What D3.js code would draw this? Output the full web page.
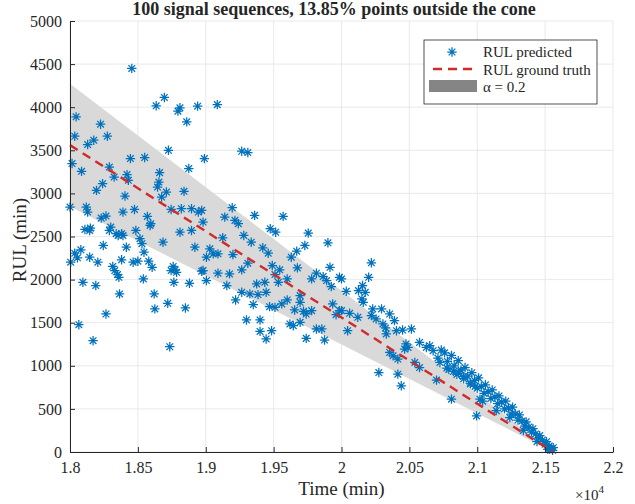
<!DOCTYPE html>
<html>
<head>
<meta charset="utf-8">
<script src="https://cdn.jsdelivr.net/npm/d3@7"></script>
<style>
body { margin: 0; background: #fff; }
text { font-family: "Liberation Serif", "DejaVu Serif", serif; fill: #262626; }
</style>
</head>
<body>
<div id="main"></div>
<script>
// tick values and labels (x axis shown in units of 1e4 min)
var xTicks = [18000, 18500, 19000, 19500, 20000, 20500, 21000, 21500, 22000];
var xTickLabels = ["1.8", "1.85", "1.9", "1.95", "2", "2.05", "2.1", "2.15", "2.2"];
var yTicks = [0, 500, 1000, 1500, 2000, 2500, 3000, 3500, 4000, 4500, 5000];

// ground truth: RUL reaches 0 at this time, cone is +/- alpha * RUL
var truthEnd = 21560;
var truthStart = 18000;
var coneAlpha = 0.2;

// predicted RUL points [time, RUL]
var predEarly = [
  [18455,4450],[18635,4016],[18695,4113],[18810,3993],[18795,3954],[18860,3830],[18940,4012],[18045,3888],
  [18035,3663],[18225,3803],[18275,3663],[18130,3567],[18175,3617],[18015,3346],[18085,3256],[18725,3500],
  [18445,3404],[18550,3416],[18875,3288],[18990,3404],[18290,3306],[18325,3190],[18420,3218],[18430,3152],
  [18660,3241],[18655,3132],[18645,3074],[18710,3016],[18675,2958],[18840,3024],[18240,3113],[18195,3035],
  [18405,2969],[18000,2841],[18120,2841],[18130,2783],[18230,2713],[18265,2737],[18390,2783],[18475,2814],
  [18570,2733],[18595,2648],[18590,2628],[18300,2609],[18290,2570],[18110,2582],[18150,2597],[18745,2814],
  [18820,2822],[18895,2822],[18945,2783],[18485,2570],[18810,2550],[18895,2570],[18380,2532],[18340,2532],
  [19085,4030],[19265,3489],[19310,3474]
];
var predLow = [
  [18145,2570],[18355,2512],[18390,2512],[18515,2474],[18530,2416],[18685,2434],[18920,2376],[18245,2396],
  [18415,2376],[18545,2318],[18080,2346],[18035,2306],[18055,2253],[18005,2202],[18145,2260],[18205,2202],
  [18380,2230],[18465,2202],[18500,2213],[18580,2213],[18605,2143],[18315,2152],[18330,2105],[18350,2058],
  [18360,2027],[18760,2152],[18775,2113],[18785,2085],[18745,2105],[18970,2097],[18540,2008],[18095,1969],
  [18190,1931],[18765,1969],[18880,1957],[18365,1834],[18620,1834],[18720,1725],[18625,1660],[18850,1671],
  [18265,1601],[18065,1477],[18170,1291],[18735,1221]
];
var predMid = [
  [19195,2834],[19140,2725],[19215,2687],[19240,2648],[19360,2745],[19570,2733],[18970,2803],[18980,2667],
  [19475,2590],[19515,2550],[19755,2539],[19900,2427],[19280,2512],[19335,2434],[19125,2485],[19420,2369],
  [19460,2306],[19730,2396],[19670,2330],[19630,2260],[19030,2357],[19005,2260],[19055,2299],[19090,2299],
  [19200,2291],[19310,2190],[19490,2163],[19545,2113],[19510,2058],[19675,2136],[19915,2143],[19815,2074],
  [19865,2035],[19890,1989],[19925,1919],[19780,2008],[19985,2027],[19265,2113],[19175,2066],[19090,2074],
  [18980,2105],[19435,1969],[19535,1969],[19600,2008],[19005,1989],[19155,1931],[19375,1950],[19265,1853],
  [19325,1834],[19385,1826],[19445,1853],[19220,1764],[19350,1710],[19470,1686],[19510,1678],[19560,1718],
  [19600,1764],[19695,1814],[19695,1736],[19655,1648],[19720,1632],[19780,1640],[19740,1601],[19935,1718],
  [19960,1593],[19985,1640],[19300,1532],[19400,1532],[19620,1485],[19645,1465],[19695,1504],[19815,1427],
  [19855,1427],[19400,1399],[19485,1407],[19445,1311],[19740,1318],[19875,1299]
];
var predLate = [
  [20220,2195],[20000,2008],[20200,2027],[20155,1931],[20125,1872],[20175,1853],[20035,1864],[20150,1776],
  [20160,1736],[20230,1660],[20295,1660],[20220,1582],[20255,1543],[20000,1640],[20060,1609],[20120,1562],
  [20045,1407],[20305,1485],[20325,1439],[20330,1369],[20405,1407],[20450,1415],[20515,1427],[20475,1253],
  [20465,1194],[20490,1213],[20355,1155],[20380,1116],[20415,1078],[20575,1271],[20625,1213],[20650,1233],
  [20735,1183],[20675,1175],[20710,1090],[20725,1039],[20540,1039],[20575,980],[20275,922],[20415,903],
  [20440,768],[20700,834],[20810,613],[21020,613],[20995,419],[20355,1601],[20390,1524],
  [20776,974],[20825,935],[20862,916],[20898,877],[20948,800],[20985,761]
];
var predTail = [
  [20760,1150],[20780,1050],[20790,960],[20810,1120],[20830,1000],[20850,900],[20860,1060],[20880,950],
  [20900,850],[20910,980],[20930,880],[20950,790],[20960,920],[20980,830],[21000,740],[21010,860],
  [21030,760],[21050,680],[21060,780],[21080,700],[21100,620],[21110,720],[21130,640],[21150,560],
  [21160,650],[21180,580],[21200,500],[21210,590],[21230,510],[21250,440],[21260,520],[21280,440],
  [21300,370],[21310,430],[21330,360],[21350,300],[21360,350],[21380,290],[21400,230],[21410,270],
  [21430,210],[21450,160],[21460,190],[21480,140],[21500,90],[21510,120],[21530,70],[21545,40],
  [21555,20],[21560,50],[21520,30],[21440,120],[21340,250],[21240,400],[21140,480],[21040,590]
];
var predicted = predEarly.concat(predLow, predMid, predLate, predTail);

var outerWidth = 635, outerHeight = 504;
var marginLeft = 70, marginTop = 21, marginRight = 22, marginBottom = 52;
var innerWidth = outerWidth - marginLeft - marginRight;
var innerHeight = outerHeight - marginTop - marginBottom;

var xScale = d3.scaleLinear().domain([18000, 22000]).range([0, innerWidth]);
var yScale = d3.scaleLinear().domain([0, 5000]).range([innerHeight, 0]);

var blue = "#0072BD", red = "#cf2b2b", axisColor = "#262626";

var svg = d3.select("#main").append("svg")
    .attr("width", outerWidth)
    .attr("height", outerHeight)
    .style("display", "block");

svg.append("rect").attr("width", outerWidth).attr("height", outerHeight).attr("fill", "#fff");

var g = svg.append("g")
    .attr("transform", "translate(" + marginLeft + "," + marginTop + ")");

// grid
g.selectAll(".vgrid").data(xTicks).enter().append("line")
    .attr("x1", d => xScale(d)).attr("x2", d => xScale(d))
    .attr("y1", 0).attr("y2", innerHeight)
    .attr("stroke", "#e3e3e3").attr("stroke-width", 0.8);
g.selectAll(".hgrid").data(yTicks).enter().append("line")
    .attr("x1", 0).attr("x2", innerWidth)
    .attr("y1", d => yScale(d)).attr("y2", d => yScale(d))
    .attr("stroke", "#e3e3e3").attr("stroke-width", 0.8);

// cone
var coneArea = d3.area()
    .x(d => xScale(d))
    .y0(d => yScale((1 - coneAlpha) * (truthEnd - d)))
    .y1(d => yScale((1 + coneAlpha) * (truthEnd - d)));
g.append("path")
    .datum([truthStart, truthEnd])
    .attr("d", coneArea)
    .attr("fill", "#d9d9d9");

// asterisk marker
function asterisk(r) {
    var d = r * Math.SQRT1_2;
    return "M" + (-r) + ",0L" + r + ",0M0," + (-r) + "L0," + r +
        "M" + (-d) + "," + (-d) + "L" + d + "," + d +
        "M" + (-d) + "," + d + "L" + d + "," + (-d);
}

g.selectAll(".pt").data(predicted).enter().append("path")
    .attr("class", "pt")
    .attr("transform", d => "translate(" + xScale(d[0]) + "," + yScale(d[1]) + ")")
    .attr("d", asterisk(4.7))
    .attr("stroke", blue)
    .attr("stroke-width", 1.25)
    .attr("fill", "none");

// ground truth
var truthLine = d3.line().x(d => xScale(d)).y(d => yScale(truthEnd - d));
g.append("path")
    .datum([truthStart, truthEnd])
    .attr("d", truthLine)
    .attr("fill", "none")
    .attr("stroke", red)
    .attr("stroke-width", 2.4)
    .attr("stroke-dasharray", "9,6");

// axes
var xAxis = d3.axisBottom(xScale).tickValues(xTicks)
    .tickFormat((d, i) => xTickLabels[i]).tickSizeInner(-5).tickSizeOuter(0).tickPadding(10);
var yAxis = d3.axisLeft(yScale).tickValues(yTicks)
    .tickFormat(d3.format("d")).tickSizeInner(-5).tickSizeOuter(0).tickPadding(8);

var xAxisG = g.append("g").attr("transform", "translate(0," + innerHeight + ")").call(xAxis);
var yAxisG = g.append("g").call(yAxis);
[xAxisG, yAxisG].forEach(a => {
    a.attr("font-size", 16).attr("font-family", '"Liberation Serif", serif');
    a.select(".domain").attr("stroke", axisColor).attr("stroke-width", 1);
    a.selectAll(".tick line").attr("stroke", axisColor).attr("stroke-width", 1);
    a.selectAll(".tick text").attr("fill", axisColor);
});

// labels
svg.append("text")
    .attr("x", 334).attr("y", 15)
    .attr("text-anchor", "middle")
    .style("font-size", "18px").style("font-weight", "bold")
    .attr("fill", "#000")
    .text("100 signal sequences, 13.85% points outside the cone");

svg.append("text")
    .attr("x", marginLeft + innerWidth / 2).attr("y", 495)
    .attr("text-anchor", "middle")
    .style("font-size", "19px")
    .text("Time (min)");

svg.append("text")
    .attr("transform", "translate(26," + 240 + ") rotate(-90)")
    .attr("text-anchor", "middle")
    .style("font-size", "19px")
    .text("RUL (min)");

var expo = svg.append("text").attr("x", 575).attr("y", 500).style("font-size", "15px");
expo.append("tspan").text("\u00d710");
expo.append("tspan").attr("dy", -7).style("font-size", "11px").text("4");

// legend
var legend = svg.append("g").attr("transform", "translate(424,40)");
legend.append("rect").attr("width", 173).attr("height", 64)
    .attr("fill", "#fff").attr("stroke", axisColor).attr("stroke-width", 0.8);
legend.append("path").attr("transform", "translate(28,12)").attr("d", asterisk(4.7))
    .attr("stroke", blue).attr("stroke-width", 1.25).attr("fill", "none");
legend.append("line").attr("x1", 9).attr("x2", 53).attr("y1", 29).attr("y2", 29)
    .attr("stroke", red).attr("stroke-width", 2.4).attr("stroke-dasharray", "9,6");
legend.append("rect").attr("x", 5).attr("y", 40).attr("width", 48).attr("height", 12).attr("fill", "#858585");
var legendLabels = ["RUL predicted", "RUL ground truth", "\u03b1 = 0.2"];
legend.selectAll(".lt").data(legendLabels).enter().append("text")
    .attr("x", 59).attr("y", (d, i) => 17 + i * 17.5)
    .style("font-size", "15px")
    .text(d => d);
</script>
</body>
</html>
